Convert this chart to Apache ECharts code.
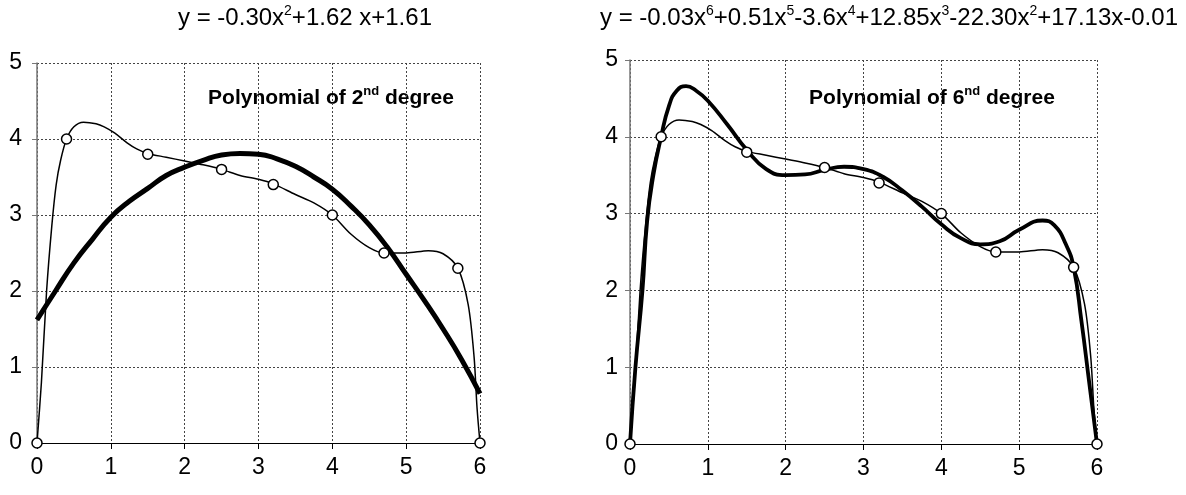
<!DOCTYPE html>
<html>
<head>
<meta charset="utf-8">
<script src="https://cdn.jsdelivr.net/npm/echarts@6/dist/echarts.min.js"></script>
<style>
html,body{margin:0;padding:0;background:#fff;}
#chart{width:1186px;height:495px;}
</style>
</head>
<body>
<div id="chart"></div>
<script>
// ---- data ----
const xTicks = [0, 1, 2, 3, 4, 5, 6];
const yTicks = [0, 1, 2, 3, 4, 5];
// measured points (same in both panels)
const pointsX = [0, 0.4, 1.5, 2.5, 3.2, 4.0, 4.7, 5.7, 6.0];
const pointsY = [0, 4.0, 3.8, 3.6, 3.4, 3.0, 2.5, 2.3, 0];
// thin smoothed line through the points, as drawn in the picture
const thinX = [0, 0.06, 0.13, 0.2, 0.26, 0.32, 0.4, 0.5, 0.63, 0.8, 0.91, 1.05, 1.22, 1.35, 1.5, 1.75, 2.0, 2.25, 2.5, 2.75, 3.0, 3.2, 3.5, 3.75, 4.0, 4.25, 4.5, 4.7, 5.0, 5.3, 5.5, 5.7, 5.84, 5.92, 5.96, 6];
const thinY = [0, 0.8, 2.0, 2.85, 3.4, 3.72, 4.0, 4.16, 4.22, 4.2, 4.16, 4.08, 3.95, 3.87, 3.81, 3.76, 3.71, 3.66, 3.6, 3.52, 3.47, 3.41, 3.27, 3.16, 3.0, 2.75, 2.57, 2.5, 2.5, 2.53, 2.49, 2.3, 1.82, 1.13, 0.46, 0];
// 2nd degree trend curve
const fit2X = [0, 0.25, 0.5, 0.75, 1, 1.25, 1.5, 1.75, 2, 2.25, 2.5, 2.75, 3, 3.25, 3.5, 3.75, 4, 4.25, 4.5, 4.75, 5, 5.25, 5.5, 5.75, 6];
const fit2Y = [1.62, 2.0, 2.37, 2.68, 2.97, 3.18, 3.35, 3.52, 3.63, 3.72, 3.79, 3.81, 3.8, 3.74, 3.64, 3.5, 3.34, 3.12, 2.87, 2.57, 2.22, 1.87, 1.5, 1.1, 0.65];
// 6th degree trend curve
const fit6X = [0, 0.07, 0.16, 0.22, 0.3, 0.4, 0.5, 0.6, 0.72, 0.85, 1, 1.25, 1.5, 1.75, 2, 2.25, 2.5, 2.75, 3, 3.25, 3.5, 3.75, 4, 4.25, 4.5, 4.75, 5, 5.3, 5.45, 5.6, 5.7, 5.8, 5.9, 6];
const fit6Y = [0, 1.0, 2.0, 2.9, 3.5, 4.0, 4.4, 4.6, 4.66, 4.6, 4.47, 4.16, 3.83, 3.58, 3.5, 3.51, 3.57, 3.61, 3.58, 3.48, 3.3, 3.09, 2.86, 2.68, 2.6, 2.64, 2.79, 2.91, 2.85, 2.6, 2.3, 1.6, 0.8, 0];
const title2 = ['y = -0.30x', {sup: '2'}, '+1.62 x+1.61'];
const title6 = ['y = -0.03x', {sup: '6'}, '+0.51x', {sup: '5'}, '-3.6x', {sup: '4'}, '+12.85x', {sup: '3'}, '-22.30x', {sup: '2'}, '+17.13x-0.01'];
const label2 = ['Polynomial of 2', {sup: 'nd'}, ' degree'];
const label6 = ['Polynomial of 6', {sup: 'nd'}, ' degree'];

function toRich(parts) {
  return parts.map(p => typeof p === 'string' ? '{m|' + p + '}' : '{s|' + p.sup + '}').join('');
}
function zip(xs, ys) { return xs.map((x, i) => [x, ys[i]]); }

const FONT = 'Liberation Sans, Arial, sans-serif';
const chart = echarts.init(document.getElementById('chart'), null, {renderer: 'canvas'});

const grids = [
  {left: 37, top: 63, width: 443, height: 380},
  {left: 630, top: 60, width: 467, height: 384}
];
const yMargins = [15, 12];

function xAxis(i) {
  return {
    type: 'value', gridIndex: i, min: 0, max: 6, interval: 1,
    axisLine: {show: true, onZero: false, lineStyle: {color: '#000', width: 1.2}},
    axisTick: {show: true, length: 6, lineStyle: {color: '#000'}},
    axisLabel: {color: '#000', fontSize: 23, fontFamily: FONT, margin: 13,
      formatter: v => xTicks.includes(v) ? String(v) : ''},
    splitLine: {show: true, lineStyle: {color: '#444', type: [2, 2], width: 1}}
  };
}
function yAxis(i) {
  return {
    type: 'value', gridIndex: i, min: 0, max: 5, interval: 1,
    axisLine: {show: true, onZero: false, lineStyle: {color: '#777', width: 1.5}},
    axisTick: {show: true, length: 5, lineStyle: {color: '#777'}},
    axisLabel: {color: '#000', fontSize: 23, fontFamily: FONT, margin: yMargins[i],
      formatter: v => yTicks.includes(v) ? String(v) : ''},
    splitLine: {show: true, lineStyle: {color: '#444', type: [2, 2], width: 1}}
  };
}

const titleRich = {
  m: {fontSize: 24, fontFamily: FONT, color: '#000', lineHeight: 28},
  s: {fontSize: 14, fontFamily: FONT, color: '#000', lineHeight: 28, padding: [0, 0, 14, 0]}
};
const labelRich = {
  m: {fontSize: 21, fontWeight: 'bold', fontFamily: FONT, color: '#000', lineHeight: 26},
  s: {fontSize: 13, fontWeight: 'bold', fontFamily: FONT, color: '#000', lineHeight: 26, padding: [0, 0, 13, 0]}
};

function markerSeries(i) {
  return {type: 'scatter', xAxisIndex: i, yAxisIndex: i, data: zip(pointsX, pointsY),
    symbol: 'circle', symbolSize: 10,
    itemStyle: {color: '#fff', borderColor: '#000', borderWidth: 1.5, opacity: 1}, z: 4};
}
function thinSeries(i) {
  return {type: 'line', xAxisIndex: i, yAxisIndex: i, data: zip(thinX, thinY), smooth: 0.3,
    showSymbol: false, lineStyle: {color: '#000', width: 1.5}, z: 3};
}

const option = {
  animation: false,
  backgroundColor: '#fff',
  grid: grids,
  xAxis: [xAxis(0), xAxis(1)],
  yAxis: [yAxis(0), yAxis(1)],
  graphic: [
    {type: 'text', x: 305, y: 18, style: {text: toRich(title2), rich: titleRich, align: 'center', verticalAlign: 'middle'}},
    {type: 'text', x: 889, y: 18, style: {text: toRich(title6), rich: titleRich, align: 'center', verticalAlign: 'middle'}},
    {type: 'text', x: 331, y: 98, style: {text: toRich(label2), rich: labelRich, align: 'center', verticalAlign: 'middle'}},
    {type: 'text', x: 932, y: 98, style: {text: toRich(label6), rich: labelRich, align: 'center', verticalAlign: 'middle'}}
  ],
  series: [
    {type: 'line', xAxisIndex: 0, yAxisIndex: 0, data: zip(fit2X, fit2Y), smooth: true,
      showSymbol: false, lineStyle: {color: '#000', width: 5}, z: 2},
    thinSeries(0),
    markerSeries(0),
    {type: 'line', xAxisIndex: 1, yAxisIndex: 1, data: zip(fit6X, fit6Y), smooth: true,
      showSymbol: false, lineStyle: {color: '#000', width: 3.8}, z: 2},
    thinSeries(1),
    markerSeries(1)
  ]
};
chart.setOption(option);
</script>
</body>
</html>
